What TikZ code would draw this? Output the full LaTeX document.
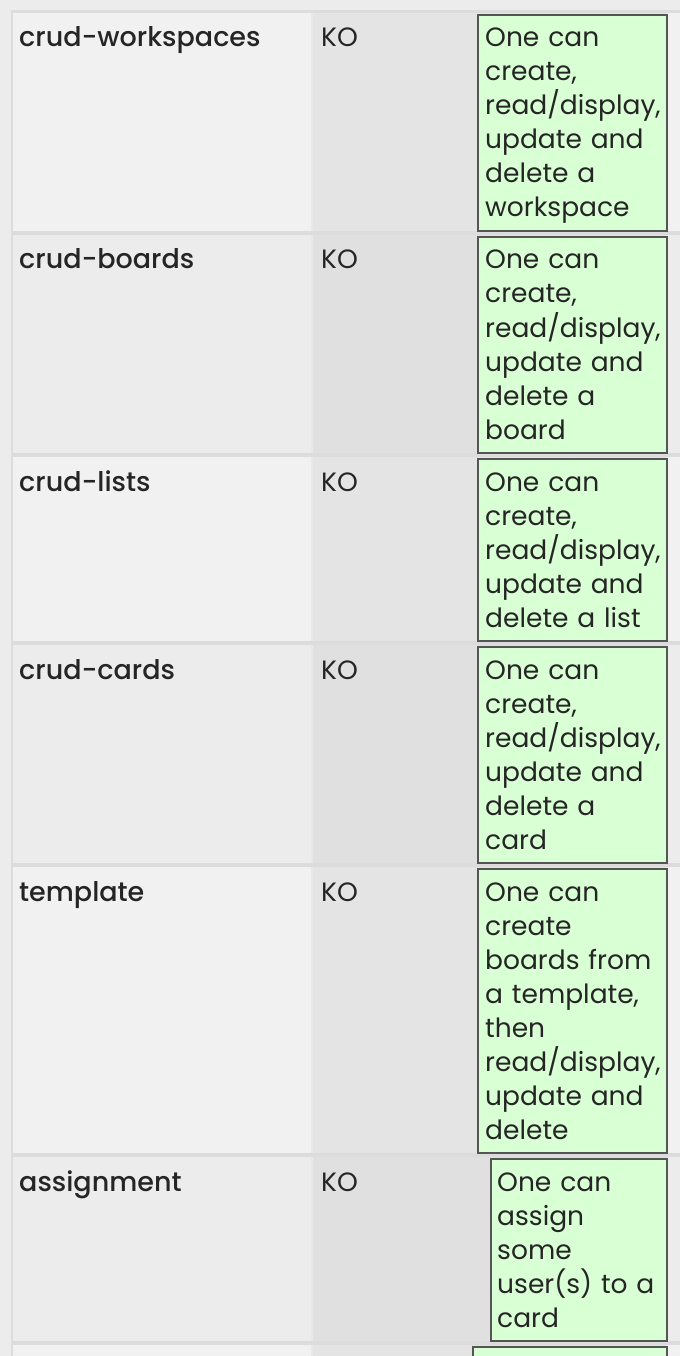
\documentclass[tikz,border=0pt]{standalone}
\usepackage{fontspec}
\setmainfont{Poppins}
\newfontfamily\medfont{Poppins}[UprightFont={* Medium}]
\definecolor{bgc}{HTML}{ECECEC}
\definecolor{sepc}{HTML}{DCDCDC}
\definecolor{colgap}{HTML}{E8E8E8}
\definecolor{oddL}{HTML}{F1F1F1}
\definecolor{oddM}{HTML}{E4E4E4}
\definecolor{evenL}{HTML}{ECECEC}
\definecolor{evenM}{HTML}{E0E0E0}
\definecolor{okgreen}{HTML}{D9FFD4}
\definecolor{boxline}{HTML}{555555}
\definecolor{txt}{HTML}{252525}
\begin{document}
\begin{tikzpicture}[x=1pt,y=-1pt,
  namet/.style={anchor=base west, inner sep=0pt, font=\medfont\fontsize{27}{34}\selectfont, text=txt},
  kot/.style={anchor=base west, inner sep=0pt, font=\fontsize{26.5}{34}\selectfont, text=txt},
  desct/.style={anchor=base west, inner sep=0pt, text width=250pt, align=left, font=\fontsize{26.5}{34}\selectfont, text=txt},
  gbox/.style={fill=okgreen, draw=boxline, line width=2pt}]
\useasboundingbox (0,0) rectangle (680,1356);
\fill[bgc] (0,0) rectangle (680,1356);
\fill[sepc] (11,10.5) rectangle (680,1356);
% row backgrounds
\foreach \t/\b/\L/\M in {13/231/oddL/oddM, 235/453/evenL/evenM, 457/641/oddL/oddM, 645/863/evenL/evenM, 867/1153/oddL/oddM, 1157/1341/evenL/evenM, 1345/1360/oddL/oddM}{
  \fill[\L] (13,\t) rectangle (311,\b);
  \fill[colgap] (311,\t) rectangle (313,\b);
  \fill[\M] (313,\t) rectangle (667,\b);
  \fill[\L] (667,\t) rectangle (680,\b);
}
% green boxes
\node[gbox, inner sep=0pt, minimum width=189pt, minimum height=216pt, anchor=north west] (g1) at (477,14) {};
\node[gbox, inner sep=0pt, minimum width=189pt, minimum height=216pt, anchor=north west] (g2) at (477,236) {};
\node[gbox, inner sep=0pt, minimum width=189pt, minimum height=182pt, anchor=north west] (g3) at (477,458) {};
\node[gbox, inner sep=0pt, minimum width=189pt, minimum height=216pt, anchor=north west] (g4) at (477,646) {};
\node[gbox, inner sep=0pt, minimum width=189pt, minimum height=284pt, anchor=north west] (g5) at (477,868) {};
\node[gbox, inner sep=0pt, minimum width=176pt, minimum height=182pt, anchor=north west] (g6) at (490,1158) {};
\node[gbox, inner sep=0pt, minimum width=194pt, minimum height=40pt, anchor=north west] (g7) at (472,1346) {};
% names
\node[namet] (n1) at (19,47) {crud-workspaces};
\node[namet] (n2) at (19,269) {crud-boards};
\node[namet] (n3) at (19,491) {crud-lists};
\node[namet] (n4) at (19,679) {crud-cards};
\node[namet] (n5) at (19,901) {template};
\node[namet] (n6) at (19,1191) {assignment};
% status
\node[kot] (k1) at (321,47) {KO};
\node[kot] (k2) at (321,269) {KO};
\node[kot] (k3) at (321,491) {KO};
\node[kot] (k4) at (321,679) {KO};
\node[kot] (k5) at (321,901) {KO};
\node[kot] (k6) at (321,1191) {KO};
% descriptions
\node[desct] (d1) at (485,47) {One can\\create,\\read/display,\\update and\\delete a\\workspace};
\node[desct] (d2) at (485,269) {One can\\create,\\read/display,\\update and\\delete a\\board};
\node[desct] (d3) at (485,491) {One can\\create,\\read/display,\\update and\\delete a list};
\node[desct] (d4) at (485,679) {One can\\create,\\read/display,\\update and\\delete a\\card};
\node[desct] (d5) at (485,901) {One can\\create\\boards from\\a template,\\then\\read/display,\\update and\\delete};
\node[desct] (d6) at (497,1191) {One can\\assign\\some\\user(s) to a\\card};
\end{tikzpicture}
\end{document}
